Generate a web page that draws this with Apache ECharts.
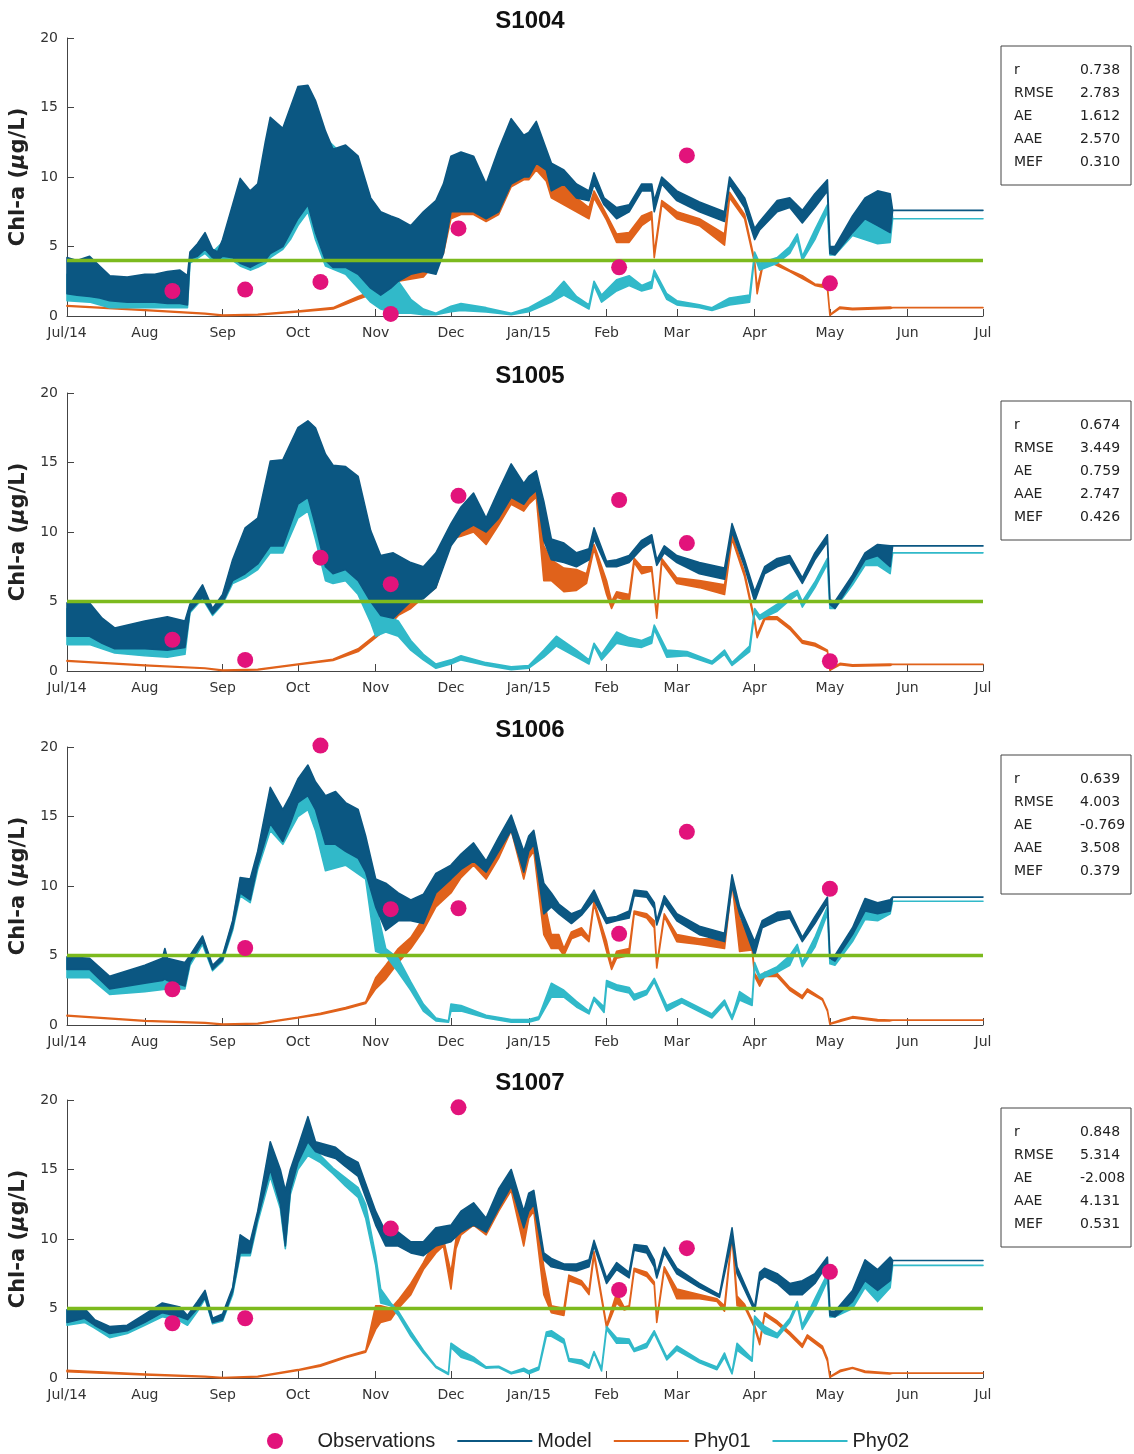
<!DOCTYPE html>
<html>
<head>
<meta charset="utf-8">
<title>Chl-a S1004 - S1007</title>
<script src="https://cdn.jsdelivr.net/npm/echarts@6/dist/echarts.min.js"></script>
<style>
  html, body { margin: 0; padding: 0; background: #fff; }
  #chart { width: 1134px; height: 1454px; }
</style>
</head>
<body>
<div id="chart"></div>
<script>
// month ticks on the time axis (Jul/14 .. Jul/15)
const monthStarts = ['07-01', '08-01', '09-01', '10-01', '11-01', '12-01', '01-01', '02-01', '03-01', '04-01', '05-01', '06-01', '2015-07-01']
const monthLabels = ['Jul/14', 'Aug', 'Sep', 'Oct', 'Nov', 'Dec', 'Jan/15', 'Feb', 'Mar', 'Apr', 'May', 'Jun', 'Jul']
const yTicks = [0, 5, 10, 15, 20]

const stations = ['S1004', 'S1005', 'S1006', 'S1007']
const thresholds = [4, 5, 5, 5]

// observations (same sampling dates for every station)
const obsDates = ['08-12', '09-10', '10-10', '11-07', '12-04', '02-06', '03-05', '05-01']
const s1004Obs = [1.8, 1.9, 2.45, 0.15, 6.3, 3.5, 11.55, 2.35]
const s1005Obs = [2.25, 0.8, 8.15, 6.25, 12.6, 12.3, 9.2, 0.7]
const s1006Obs = [2.57, 5.54, 20.1, 8.33, 8.4, 6.56, 13.9, 9.8]
const s1007Obs = [3.94, 4.3, null, 10.75, 19.47, 6.33, 9.34, 7.64]

// goodness of fit
const statNames = ['r', 'RMSE', 'AE', 'AAE', 'MEF']
const s1004Stats = [0.738, 2.783, 1.612, 2.570, 0.310]
const s1005Stats = [0.674, 3.449, 0.759, 2.747, 0.426]
const s1006Stats = [0.639, 4.003, -0.769, 3.508, 0.379]
const s1007Stats = [0.848, 5.314, -2.008, 4.131, 0.531]

// model output, [date, low, high] of the daily oscillation
const s1004Model = [['07-01',1.6,4.2],['07-05',1.5,4.0],['07-10',1.4,4.3],['07-14',1.3,3.6],['07-18',1.1,2.9],['07-25',1.0,2.8],['08-01',1.0,3.0],['08-05',1.0,3.0],['08-10',0.9,3.2],['08-15',0.9,3.3],['08-18',0.8,2.9],['08-19',4.1,4.6],['08-22',4.3,5.2],['08-25',4.8,6.0],['08-28',4.2,4.8],['08-30',4.0,4.6],['09-01',4.3,5.5],['09-05',4.2,8.0],['09-08',3.8,9.9],['09-12',3.5,9.0],['09-15',3.8,9.5],['09-18',4.0,12.5],['09-20',4.5,14.3],['09-25',5.0,13.5],['09-28',6.0,15.0],['10-01',7.0,16.5],['10-05',8.0,16.6],['10-08',6.0,15.5],['10-12',4.0,13.3],['10-15',3.5,12.0],['10-20',3.5,12.3],['10-25',3.0,11.5],['10-30',2.0,8.5],['11-03',1.5,7.5],['11-07',2.0,7.2],['11-10',2.5,7.0],['11-15',3.0,6.5],['11-20',3.2,7.5],['11-25',3.0,8.3],['11-28',4.5,9.5],['12-01',7.5,11.5],['12-05',7.5,11.8],['12-10',7.5,11.5],['12-15',7.0,9.5],['12-20',7.5,12.0],['12-25',9.5,14.2],['12-30',10.0,13.0],['01-01',10.0,13.2],['01-04',11.0,14.0],['01-08',10.5,12.0],['01-10',9.0,11.0],['01-15',9.5,10.5],['01-20',8.5,9.5],['01-25',8.3,9.0],['01-27',9.5,10.3],['01-31',8.0,8.5],['02-05',7.0,7.8],['02-10',7.5,8.0],['02-15',9.0,9.5],['02-19',9.0,9.5],['02-20',7.5,8.3],['02-23',9.5,10.0],['03-01',8.3,9.0],['03-10',7.5,8.2],['03-20',6.8,7.5],['03-22',9.5,10.0],['03-28',7.8,8.5],['04-01',5.5,6.3],['04-03',6.2,6.8],['04-10',7.5,8.3],['04-15',7.8,8.5],['04-20',6.7,7.6],['04-25',7.8,8.8],['04-30',9.0,9.8],['05-01',4.5,5.0],['05-03',4.4,5.0],['05-10',6.0,7.2],['05-15',7.0,8.5],['05-20',6.5,9.0],['05-25',6.0,8.8],['05-26',7.6,7.6],['2015-07-01',7.6,7.6]]
const s1004Phy01 = [['07-01',0.7,0.75],['08-01',0.4,0.45],['08-25',0.15,0.2],['09-01',0.03,0.06],['09-15',0.08,0.12],['10-01',0.3,0.35],['10-15',0.5,0.6],['10-20',0.85,1.0],['10-25',1.2,1.4],['10-31',1.6,1.8],['11-03',2.0,2.4],['11-10',2.5,3.2],['11-20',2.8,4.0],['11-28',4.5,6.5],['12-01',7.0,10.5],['12-05',7.3,11.0],['12-10',7.3,11.0],['12-15',6.8,9.0],['12-20',7.3,11.5],['12-25',9.3,13.5],['12-30',9.8,12.5],['01-01',9.8,12.8],['01-04',10.5,13.5],['01-08',9.7,11.4],['01-10',8.5,10.5],['01-15',8.0,10.0],['01-20',7.5,8.5],['01-25',7.0,7.8],['01-27',8.5,9.0],['02-01',6.9,7.3],['02-05',5.3,5.9],['02-10',5.3,6.0],['02-15',6.5,7.2],['02-19',7.0,7.5],['02-20',4.2,4.5],['02-23',8.0,8.3],['03-01',7.0,7.5],['03-10',6.5,7.0],['03-20',5.1,5.9],['03-22',8.5,8.9],['03-28',7.0,7.3],['04-01',3.8,4.0],['04-02',1.6,2.0],['04-04',3.4,3.6],['04-08',3.8,4.0],['04-15',3.2,3.3],['04-20',2.7,2.9],['04-25',2.2,2.3],['04-30',2.0,2.2],['05-01',0.05,0.1],['05-05',0.55,0.65],['05-10',0.45,0.55],['05-25',0.55,0.65],['05-26',0.6,0.6],['2015-07-01',0.6,0.6]]
const s1004Phy02 = [['07-01',1.1,3.0],['07-10',1.0,3.2],['07-18',0.6,2.0],['08-01',0.6,2.2],['08-10',0.6,2.3],['08-18',0.6,2.0],['08-19',3.8,4.4],['08-25',4.5,5.8],['08-28',4.0,4.6],['09-01',4.1,5.3],['09-05',4.0,7.7],['09-08',3.6,9.6],['09-12',3.3,8.7],['09-15',3.5,9.2],['09-18',3.8,12.2],['09-20',4.2,13.8],['09-25',4.8,13.2],['09-28',5.5,14.5],['10-01',6.5,16.0],['10-05',7.5,16.0],['10-08',5.5,15.0],['10-12',3.6,12.8],['10-20',3.0,11.4],['10-25',2.0,10.2],['10-30',1.0,7.0],['11-03',0.5,4.5],['11-07',0.3,3.0],['11-10',0.2,2.5],['11-15',0.2,1.2],['11-20',0.1,0.5],['11-25',0.1,0.2],['12-01',0.3,0.7],['12-05',0.4,0.9],['12-15',0.3,0.6],['12-25',0.1,0.2],['01-01',0.3,0.6],['01-10',1.0,1.5],['01-15',1.5,2.5],['01-20',1.0,1.4],['01-25',0.5,0.8],['01-27',2.2,2.5],['01-30',1.0,1.5],['02-05',1.8,2.6],['02-10',2.2,2.9],['02-15',1.8,2.2],['02-19',2.0,2.5],['02-20',3.0,3.3],['02-25',1.2,1.6],['03-01',0.8,1.1],['03-10',0.6,0.8],['03-15',0.4,0.6],['03-22',0.8,1.3],['03-30',1.0,1.5],['04-01',4.3,4.6],['04-03',3.3,3.8],['04-10',3.8,4.2],['04-15',4.5,5.0],['04-18',5.5,5.9],['04-20',4.0,4.3],['04-25',5.5,6.2],['04-30',7.5,8.0],['05-01',4.4,4.6],['05-03',4.4,4.9],['05-10',5.8,6.8],['05-20',5.2,8.5],['05-25',5.3,8.5],['05-26',7.0,7.0],['2015-07-01',7.0,7.0]]

const s1005Model = [['07-01',2.5,4.9],['07-10',2.5,4.9],['07-15',2.0,3.8],['07-20',1.6,3.1],['08-01',1.6,3.6],['08-10',1.5,3.9],['08-17',1.7,3.6],['08-19',4.3,4.8],['08-24',5.3,6.2],['08-28',4.1,4.5],['09-01',4.9,5.5],['09-05',6.5,8.0],['09-10',7.0,10.3],['09-15',7.7,11.0],['09-20',9.0,15.1],['09-25',9.0,15.2],['10-01',12.0,17.5],['10-05',12.5,18.0],['10-08',10.5,17.5],['10-12',7.5,15.6],['10-15',7.0,14.8],['10-20',7.3,14.7],['10-25',6.5,14.0],['10-30',5.0,10.1],['11-03',4.0,8.3],['11-08',3.8,8.5],['11-15',5.0,7.8],['11-20',5.2,7.5],['11-25',6.0,8.5],['12-01',9.0,10.6],['12-05',10.0,11.8],['12-10',10.5,12.8],['12-15',10.0,11.0],['12-20',11.0,13.0],['12-25',12.5,14.9],['12-30',12.0,13.5],['01-01',12.5,14.0],['01-04',13.0,14.4],['01-07',9.4,12.2],['01-10',8.0,9.5],['01-15',7.8,9.2],['01-20',7.5,8.5],['01-25',8.0,8.8],['01-27',9.5,10.3],['02-01',7.5,7.9],['02-05',7.5,8.0],['02-10',7.8,8.3],['02-15',8.8,9.4],['02-19',9.3,9.8],['02-21',7.6,8.0],['02-24',8.5,9.0],['03-01',7.8,8.3],['03-10',7.0,7.8],['03-20',6.6,7.4],['03-23',10.0,10.6],['03-28',7.5,8.0],['04-01',5.0,5.7],['04-05',7.0,7.5],['04-10',7.5,8.1],['04-15',7.8,8.3],['04-20',6.3,6.7],['04-25',8.0,8.5],['04-30',9.3,9.8],['05-01',4.8,5.1],['05-03',4.5,5.0],['05-10',6.5,6.9],['05-15',8.0,8.5],['05-20',8.3,9.1],['05-25',7.5,9.0],['05-26',9.0,9.0],['2015-07-01',9.0,9.0]]
const s1005Phy01 = [['07-01',0.7,0.75],['08-01',0.38,0.42],['08-25',0.18,0.22],['09-01',0.03,0.06],['09-15',0.08,0.12],['10-01',0.45,0.5],['10-15',0.75,0.85],['10-25',1.4,1.6],['11-01',2.4,2.6],['11-05',3.0,3.5],['11-10',4.0,4.5],['11-15',4.5,5.0],['11-20',5.3,5.8],['11-25',6.0,7.0],['12-01',9.5,10.3],['12-05',9.7,10.8],['12-10',10.0,11.5],['12-15',9.1,10.0],['12-20',10.5,12.0],['12-25',12.0,13.8],['12-30',11.5,12.8],['01-01',12.0,13.3],['01-04',12.5,13.5],['01-07',6.5,9.0],['01-10',6.5,8.0],['01-15',5.7,7.4],['01-20',5.8,7.3],['01-24',6.3,7.0],['01-27',8.8,9.1],['02-01',5.5,6.5],['02-03',4.5,5.0],['02-05',5.3,5.7],['02-10',5.0,5.5],['02-12',7.8,8.1],['02-15',7.0,7.5],['02-19',7.2,7.5],['02-21',3.8,4.1],['02-23',7.8,8.1],['03-01',6.3,6.7],['03-10',6.0,6.5],['03-20',5.5,6.2],['03-23',9.5,9.8],['03-28',6.8,7.1],['04-01',3.5,3.7],['04-02',2.4,2.6],['04-05',3.7,3.9],['04-10',3.7,3.9],['04-15',3.0,3.2],['04-20',2.0,2.2],['04-25',1.8,2.0],['04-30',1.4,1.5],['05-01',0.05,0.1],['05-05',0.45,0.55],['05-10',0.35,0.45],['05-25',0.4,0.5],['05-26',0.48,0.48],['2015-07-01',0.48,0.48]]
const s1005Phy02 = [['07-01',1.9,4.5],['07-10',1.9,4.5],['07-20',1.3,3.0],['08-01',1.1,3.4],['08-10',1.0,3.6],['08-17',1.2,3.4],['08-19',4.2,4.7],['08-24',5.2,6.0],['08-28',4.0,4.4],['09-01',4.8,5.4],['09-05',6.3,7.8],['09-10',6.7,10.0],['09-15',7.3,10.7],['09-20',8.5,14.8],['09-25',8.5,14.8],['10-01',11.0,17.0],['10-05',11.5,17.4],['10-08',9.5,16.8],['10-12',6.5,14.8],['10-15',6.3,14.0],['10-20',6.5,13.8],['10-25',5.5,12.5],['10-30',3.5,7.5],['11-01',2.5,5.0],['11-05',2.8,4.0],['11-10',2.5,3.6],['11-15',1.5,2.2],['11-20',0.8,1.2],['11-25',0.2,0.5],['12-01',0.5,0.8],['12-05',0.8,1.1],['12-15',0.4,0.6],['12-25',0.1,0.3],['01-01',0.2,0.4],['01-07',1.0,1.5],['01-12',1.8,2.5],['01-20',1.0,1.5],['01-25',0.5,0.8],['01-27',1.8,2.0],['01-30',0.8,1.2],['02-05',2.0,2.8],['02-10',1.8,2.4],['02-15',1.7,2.2],['02-19',2.0,2.5],['02-20',3.0,3.3],['02-25',1.0,1.5],['03-05',1.1,1.4],['03-15',0.5,0.7],['03-20',1.2,1.5],['03-23',0.4,0.6],['03-30',1.4,1.8],['04-01',4.2,4.5],['04-03',3.7,4.0],['04-10',4.3,4.8],['04-15',5.1,5.5],['04-18',5.5,5.8],['04-20',4.6,5.0],['04-25',6.0,6.4],['04-30',7.7,8.1],['05-01',4.5,4.8],['05-03',4.5,4.8],['05-10',6.2,6.6],['05-15',7.6,8.2],['05-20',7.6,8.8],['05-25',7.0,8.6],['05-26',8.5,8.5],['2015-07-01',8.5,8.5]]

const s1006Model = [['07-01',4.0,4.9],['07-10',4.0,4.8],['07-18',2.6,3.5],['08-01',3.0,4.3],['08-08',3.2,4.8],['08-09',3.3,5.5],['08-10',3.2,4.8],['08-17',2.8,4.5],['08-19',4.5,5.0],['08-24',6.0,6.4],['08-28',4.0,4.3],['09-01',4.7,5.0],['09-05',7.0,7.5],['09-08',9.5,10.6],['09-12',9.0,10.5],['09-15',11.5,12.5],['09-20',14.5,17.1],['09-25',13.2,15.5],['09-28',14.5,16.5],['10-01',16.0,17.7],['10-05',16.5,18.7],['10-08',15.5,17.5],['10-12',13.0,16.5],['10-16',13.0,16.8],['10-20',12.5,16.0],['10-25',12.0,15.5],['10-28',11.0,13.6],['11-01',8.5,10.5],['11-05',6.8,10.2],['11-10',7.5,9.5],['11-15',7.5,9.0],['11-20',7.3,9.4],['11-25',9.5,10.9],['12-01',10.5,11.5],['12-05',11.2,12.3],['12-10',11.8,13.1],['12-15',11.0,11.8],['12-20',12.5,13.5],['12-25',14.0,15.1],['12-30',11.0,12.5],['01-01',12.5,13.6],['01-03',13.0,14.0],['01-07',8.0,10.2],['01-10',8.5,9.5],['01-13',8.0,8.7],['01-18',7.3,8.0],['01-22',7.9,8.3],['01-27',9.0,9.7],['02-01',7.3,7.7],['02-05',7.5,7.8],['02-10',7.7,8.2],['02-12',9.3,9.7],['02-17',9.2,9.6],['02-20',8.4,8.8],['02-21',7.2,7.5],['02-24',8.8,9.3],['03-01',7.5,8.0],['03-10',6.5,7.1],['03-20',6.0,6.6],['03-23',10.0,10.8],['03-26',8.0,8.5],['04-01',5.0,6.0],['04-04',7.0,7.5],['04-10',7.5,8.1],['04-15',7.7,8.2],['04-20',6.0,6.3],['04-25',7.3,7.8],['04-30',8.8,9.2],['05-01',4.8,5.0],['05-03',4.6,5.0],['05-10',6.5,7.0],['05-15',8.2,9.1],['05-20',8.0,8.8],['05-25',8.2,9.0],['05-26',9.2,9.2],['2015-07-01',9.2,9.2]]
const s1006Phy01 = [['07-01',0.65,0.7],['08-01',0.28,0.32],['08-25',0.13,0.17],['09-01',0.03,0.06],['09-15',0.08,0.12],['10-01',0.5,0.55],['10-10',0.75,0.85],['10-20',1.15,1.25],['10-28',1.55,1.65],['11-01',2.6,3.4],['11-05',3.3,4.3],['11-10',4.5,5.5],['11-15',5.5,6.3],['11-20',6.8,7.7],['11-25',8.5,9.5],['12-01',9.5,10.5],['12-05',10.6,11.5],['12-10',11.5,12.5],['12-15',10.5,11.3],['12-20',12.0,13.0],['12-25',14.0,14.5],['12-30',10.5,12.0],['01-01',12.0,13.0],['01-03',12.5,13.5],['01-07',6.5,9.0],['01-10',5.5,6.5],['01-13',5.5,6.5],['01-15',5.0,5.5],['01-18',6.2,6.7],['01-22',6.5,7.0],['01-25',6.0,6.3],['01-27',8.7,8.9],['02-01',5.3,6.0],['02-03',4.0,4.3],['02-05',4.8,5.3],['02-10',5.0,5.5],['02-12',8.0,8.2],['02-17',7.7,8.0],['02-20',7.0,7.5],['02-21',4.1,4.3],['02-24',7.8,8.0],['03-01',6.0,6.5],['03-10',5.8,6.2],['03-20',5.5,6.2],['03-23',10.2,10.4],['03-26',5.3,7.7],['03-31',5.4,5.6],['04-01',3.5,3.7],['04-03',2.8,3.2],['04-05',3.5,3.8],['04-10',3.5,3.7],['04-15',2.5,2.7],['04-20',1.9,2.1],['04-22',2.4,2.6],['04-28',1.8,1.9],['04-30',1.0,1.1],['05-01',0.05,0.1],['05-05',0.25,0.35],['05-10',0.5,0.6],['05-20',0.3,0.4],['05-25',0.3,0.35],['05-26',0.35,0.35],['2015-07-01',0.35,0.35]]
const s1006Phy02 = [['07-01',3.4,4.8],['07-10',3.4,4.7],['07-18',2.2,3.4],['08-01',2.4,4.2],['08-10',2.6,4.6],['08-17',2.6,4.3],['08-19',4.3,4.9],['08-24',5.8,6.3],['08-28',3.9,4.2],['09-01',4.6,4.9],['09-05',6.8,7.4],['09-08',9.3,10.4],['09-12',8.8,10.3],['09-15',11.2,12.3],['09-20',14.0,16.8],['09-25',13.0,15.2],['09-28',14.0,16.2],['10-01',15.0,17.3],['10-05',15.5,18.0],['10-08',14.0,16.8],['10-12',11.1,15.5],['10-20',11.5,15.0],['10-28',10.5,13.0],['11-01',5.3,8.7],['11-05',5.0,5.5],['11-10',3.8,4.8],['11-15',2.5,3.1],['11-20',1.0,1.5],['11-25',0.3,0.5],['11-30',0.2,0.3],['12-01',1.0,1.5],['12-05',1.0,1.4],['12-15',0.5,0.7],['12-25',0.2,0.4],['01-01',0.2,0.4],['01-05',0.4,0.6],['01-10',2.0,3.0],['01-15',2.0,2.5],['01-20',1.3,1.7],['01-25',0.8,1.0],['01-27',1.8,2.0],['01-31',0.9,1.3],['02-01',2.8,3.2],['02-05',2.5,2.9],['02-10',2.3,2.7],['02-12',1.8,2.2],['02-17',2.2,2.5],['02-20',3.1,3.35],['02-25',1.0,1.4],['03-03',1.6,1.9],['03-15',0.5,0.8],['03-20',1.5,1.8],['03-23',0.4,0.6],['03-26',1.8,2.4],['03-31',1.4,1.8],['04-01',4.2,4.5],['04-03',3.3,3.6],['04-10',3.8,4.2],['04-15',4.3,5.0],['04-18',5.5,5.8],['04-20',4.2,4.5],['04-25',5.6,6.3],['04-30',8.0,8.5],['05-01',4.4,4.6],['05-03',4.3,4.7],['05-10',6.0,6.6],['05-15',7.6,8.6],['05-20',7.5,8.4],['05-25',8.0,8.8],['05-26',8.9,8.9],['2015-07-01',8.9,8.9]]

const s1007Model = [['07-01',4.0,4.9],['07-08',4.3,5.0],['07-12',3.8,4.2],['07-18',3.2,3.7],['07-25',3.4,3.8],['08-01',4.0,4.6],['08-08',4.7,5.4],['08-15',4.4,5.1],['08-18',4.2,4.5],['08-22',5.0,5.5],['08-25',5.8,6.3],['08-28',4.0,4.3],['09-01',4.2,4.6],['09-05',6.2,6.5],['09-08',9.0,10.3],['09-12',9.0,9.8],['09-15',11.5,12.0],['09-20',15.0,17.0],['09-24',12.5,15.0],['09-26',9.5,13.5],['09-28',13.5,15.0],['10-01',15.5,16.6],['10-05',17.0,18.8],['10-08',16.3,17.0],['10-12',16.0,16.8],['10-16',15.8,16.6],['10-20',15.2,16.0],['10-25',14.5,15.5],['10-28',13.0,14.0],['11-01',11.0,12.0],['11-05',9.5,10.5],['11-10',9.5,10.5],['11-15',9.0,9.8],['11-20',8.8,9.8],['11-25',9.5,10.8],['12-01',9.8,11.0],['12-05',10.5,12.0],['12-10',11.0,12.6],['12-15',10.5,11.5],['12-20',12.2,13.6],['12-25',13.8,15.0],['12-30',10.8,12.0],['01-01',12.0,13.3],['01-03',12.5,13.5],['01-07',8.5,9.0],['01-10',8.0,8.6],['01-15',7.8,8.2],['01-20',7.7,8.2],['01-25',8.0,8.5],['01-27',9.5,9.9],['02-01',6.8,7.2],['02-05',7.8,8.3],['02-10',7.2,7.6],['02-12',9.2,9.6],['02-17',9.0,9.5],['02-20',8.0,8.5],['02-21',7.2,7.5],['02-24',9.0,9.4],['03-01',7.5,7.9],['03-10',6.5,6.8],['03-18',5.8,6.0],['03-23',10.0,10.8],['03-25',7.5,8.0],['04-01',4.8,5.1],['04-03',7.0,7.6],['04-05',7.3,7.9],['04-10',6.8,7.5],['04-15',6.0,6.8],['04-20',6.0,7.0],['04-25',6.8,7.5],['04-30',8.2,8.7],['05-01',4.5,4.8],['05-03',4.4,4.8],['05-10',5.5,6.3],['05-15',7.0,8.5],['05-20',6.3,7.8],['05-25',7.0,8.7],['05-26',8.45,8.45],['2015-07-01',8.45,8.45]]
const s1007Phy01 = [['07-01',0.45,0.55],['08-01',0.22,0.28],['08-25',0.08,0.12],['09-01',0.0,0.03],['09-15',0.08,0.12],['10-01',0.55,0.6],['10-10',0.85,0.95],['10-20',1.45,1.55],['10-28',1.85,1.95],['11-01',3.5,5.2],['11-03',4.0,5.2],['11-07',4.2,5.0],['11-10',5.0,5.6],['11-15',6.0,6.8],['11-20',7.8,8.3],['11-25',9.0,10.0],['11-28',9.5,10.0],['12-01',6.4,7.6],['12-03',9.3,10.0],['12-05',10.3,11.0],['12-10',11.0,12.0],['12-15',10.3,11.0],['12-20',12.0,13.0],['12-25',13.5,14.5],['12-30',9.5,11.5],['01-01',11.5,12.5],['01-03',12.0,13.0],['01-07',6.0,8.0],['01-10',4.7,5.2],['01-15',4.5,5.0],['01-17',7.0,7.4],['01-22',6.7,7.0],['01-25',6.0,6.3],['01-27',8.8,9.1],['02-01',3.6,3.8],['02-05',5.4,6.1],['02-08',4.9,5.1],['02-10',5.0,5.2],['02-12',7.7,7.9],['02-17',7.3,7.6],['02-20',6.7,6.9],['02-21',4.0,4.2],['02-24',7.8,8.0],['03-01',5.7,6.4],['03-10',5.7,6.0],['03-17',5.5,5.7],['03-20',4.8,5.2],['03-23',10.2,10.4],['03-25',5.2,5.9],['03-28',5.1,5.3],['04-01',3.6,3.8],['04-03',2.4,2.6],['04-05',4.5,4.7],['04-10',3.9,4.1],['04-15',3.1,3.3],['04-20',2.2,2.4],['04-22',2.9,3.1],['04-28',2.1,2.3],['04-30',1.2,1.4],['05-01',0.05,0.1],['05-05',0.45,0.55],['05-10',0.7,0.75],['05-15',0.4,0.5],['05-25',0.3,0.35],['05-26',0.35,0.35],['2015-07-01',0.35,0.35]]
const s1007Phy02 = [['07-01',3.8,4.9],['07-08',4.0,4.8],['07-12',3.6,4.0],['07-18',2.9,3.6],['07-25',3.2,3.7],['08-01',3.8,4.5],['08-08',4.4,5.2],['08-15',4.1,4.9],['08-18',3.8,4.4],['08-22',4.8,5.3],['08-25',5.7,6.2],['08-28',3.9,4.2],['09-01',4.1,4.5],['09-05',6.0,6.4],['09-08',8.8,10.0],['09-12',8.8,9.6],['09-15',11.2,11.8],['09-20',14.5,16.7],['09-24',12.2,14.7],['09-26',9.3,13.2],['09-28',13.2,14.7],['10-01',15.0,16.2],['10-05',16.0,17.7],['10-10',15.5,16.0],['10-15',14.7,15.1],['10-20',13.8,14.4],['10-25',13.0,13.7],['10-28',11.5,12.5],['11-01',8.1,8.8],['11-03',5.4,6.4],['11-07',5.2,5.4],['11-10',4.5,4.8],['11-15',3.0,3.35],['11-20',1.8,2.0],['11-25',0.75,0.85],['11-30',0.25,0.35],['12-01',2.2,2.5],['12-05',1.5,2.0],['12-10',1.2,1.5],['12-15',0.7,0.8],['12-20',0.75,0.85],['12-25',0.3,0.4],['12-30',0.5,0.7],['01-01',0.3,0.5],['01-05',0.6,0.8],['01-08',3.0,3.3],['01-10',3.0,3.4],['01-15',2.5,2.8],['01-17',1.2,1.4],['01-22',1.0,1.3],['01-25',0.7,0.9],['01-27',1.8,1.9],['01-30',0.5,0.7],['02-01',3.5,3.7],['02-05',2.5,2.9],['02-10',2.5,2.8],['02-12',1.9,2.1],['02-17',2.2,2.5],['02-20',3.2,3.4],['02-25',1.3,1.5],['03-01',2.0,2.3],['03-10',1.1,1.3],['03-17',0.6,0.8],['03-20',1.5,1.8],['03-23',0.3,0.4],['03-25',2.0,2.5],['03-31',1.2,1.4],['04-01',4.0,4.45],['04-05',3.2,3.7],['04-10',2.9,3.2],['04-15',4.0,4.3],['04-18',5.2,5.5],['04-20',3.5,3.8],['04-25',5.0,5.7],['04-30',7.0,7.5],['05-01',4.4,4.6],['05-03',4.4,4.6],['05-10',5.0,5.8],['05-15',6.5,8.0],['05-20',5.5,7.5],['05-25',6.5,8.3],['05-26',8.1,8.1],['2015-07-01',8.1,8.1]]

const modelRows = [s1004Model, s1005Model, s1006Model, s1007Model]
const phy01Rows = [s1004Phy01, s1005Phy01, s1006Phy01, s1007Phy01]
const phy02Rows = [s1004Phy02, s1005Phy02, s1006Phy02, s1007Phy02]
const obsRows = [s1004Obs, s1005Obs, s1006Obs, s1007Obs]
const statRows = [s1004Stats, s1005Stats, s1006Stats, s1007Stats]

const C_MODEL = '#0b5782'
const C_PHY01 = '#e0621b'
const C_PHY02 = '#31b9c9'
const C_OBS = '#e2137b'
const C_LIMIT = '#7cba1e'
const FONT = '"DejaVu Sans", sans-serif'

// 'MM-DD' -> days since 1 Jul 2014 (Jul..Dec is 2014, Jan..Jun is 2015)
function toDay(s) {
  let p = s.split('-').map(Number)
  let y, m, d
  if (p.length === 3) {
    y = p[0]; m = p[1]; d = p[2]
  } else {
    m = p[0]; d = p[1]; y = m >= 7 ? 2014 : 2015
  }
  return (Date.UTC(y, m - 1, d) - Date.UTC(2014, 6, 1)) / 86400000
}
const monthDays = monthStarts.map(toDay)

// filled band between low and high, drawn once as a polygon via the axis scales
function band(name, rows, color, idx, z) {
  let pts = rows.map(r => [toDay(r[0]), r[1], r[2]])
  return {
    name: name,
    type: 'custom',
    xAxisIndex: idx,
    yAxisIndex: idx,
    z: z,
    silent: true,
    itemStyle: { color: color },
    encode: { x: 0, y: [1, 2] },
    data: pts,
    renderItem: function (params, api) {
      if (params.dataIndex !== 0) return null
      let upper = pts.map(p => api.coord([p[0], p[2]]))
      let lower = pts.map(p => api.coord([p[0], p[1]])).reverse()
      return {
        type: 'polygon',
        shape: { points: upper.concat(lower) },
        style: { fill: color, stroke: color, lineWidth: 1.6, lineJoin: 'round' }
      }
    }
  }
}

const gridTops = [38, 393, 747, 1100]
const gridH = 278

let grids = [], xAxes = [], yAxes = [], series = [], titles = [], graphics = []

stations.forEach((st, i) => {
  grids.push({ left: 67, right: 151, top: gridTops[i], height: gridH })
  titles.push({
    text: st, left: 525, top: gridTops[i] - 34, textAlign: 'center',
    textStyle: { fontFamily: '"Liberation Sans", Arial, sans-serif', fontSize: 24, fontWeight: 'bold', color: '#111' }
  })
  xAxes.push({
    gridIndex: i, type: 'value', min: 0, max: 365,
    axisLine: { lineStyle: { color: '#444', width: 1 } },
    axisTick: { inside: true, length: 7, customValues: monthDays, lineStyle: { color: '#444' } },
    axisLabel: {
      customValues: monthDays, margin: 10, fontSize: 14, color: '#333', fontFamily: FONT,
      formatter: v => monthLabels[monthDays.indexOf(v)]
    },
    splitLine: { show: false }
  })
  yAxes.push({
    gridIndex: i, type: 'value', min: 0, max: 20, interval: 5,
    axisLine: { show: true, lineStyle: { color: '#444', width: 1 } },
    axisTick: { inside: true, length: 7, lineStyle: { color: '#444' } },
    axisLabel: { fontSize: 14, color: '#333', margin: 9, fontFamily: FONT,
      formatter: v => yTicks.indexOf(v) >= 0 ? String(v) : '' },
    splitLine: { show: false },
    name: 'Chl-a ({mu|μ}g/L)', nameLocation: 'middle', nameGap: 32,
    nameTextStyle: {
      fontSize: 21, fontWeight: 'bold', color: '#222', fontFamily: FONT,
      rich: { mu: { fontSize: 21, fontWeight: 'bold', fontStyle: 'italic', color: '#222', fontFamily: FONT } }
    }
  })

  series.push(band('Phy01', phy01Rows[i], C_PHY01, i, 2))
  series.push(band('Phy02', phy02Rows[i], C_PHY02, i, 3))
  series.push(band('Model', modelRows[i], C_MODEL, i, 4))
  series.push({
    name: 'limit', type: 'line', xAxisIndex: i, yAxisIndex: i, z: 5, silent: true,
    symbol: 'none', lineStyle: { color: C_LIMIT, width: 3.5 },
    data: [[0, thresholds[i]], [365, thresholds[i]]]
  })
  series.push({
    name: 'Observations', type: 'scatter', xAxisIndex: i, yAxisIndex: i, z: 6,
    symbolSize: 16, clip: false, itemStyle: { color: C_OBS, opacity: 1 },
    data: obsDates.map((d, k) => [toDay(d), obsRows[i][k]]).filter(p => p[1] != null)
  })

  // statistics box
  let bx = 1001, by = gridTops[i] + 8
  graphics.push({
    type: 'rect', shape: { x: bx, y: by, width: 130, height: 139 },
    style: { fill: '#fff', stroke: '#444', lineWidth: 1 }
  })
  statNames.forEach((n, k) => {
    let yy = by + 24 + k * 23
    graphics.push({ type: 'text', x: bx + 13, y: yy,
      style: { text: n, fill: '#222', font: '14px ' + FONT, verticalAlign: 'middle' } })
    graphics.push({ type: 'text', x: bx + 79, y: yy,
      style: { text: statRows[i][k].toFixed(3), fill: '#222', font: '14px ' + FONT, verticalAlign: 'middle' } })
  })
})

const chart = echarts.init(document.getElementById('chart'), null, { renderer: 'canvas' })
chart.setOption({
  animation: false,
  backgroundColor: '#fff',
  title: titles,
  grid: grids,
  xAxis: xAxes,
  yAxis: yAxes,
  legend: {
    left: 262, top: 1426, itemWidth: 75, itemHeight: 16, itemGap: 22,
    textStyle: { fontSize: 20, color: '#222', fontFamily: '"Liberation Sans", Arial, sans-serif' },
    data: [
      { name: 'Observations', icon: 'circle', itemStyle: { color: C_OBS } },
      { name: 'Model', icon: 'path://M0,0H75V2H0Z', itemStyle: { color: C_MODEL } },
      { name: 'Phy01', icon: 'path://M0,0H75V2H0Z', itemStyle: { color: C_PHY01 } },
      { name: 'Phy02', icon: 'path://M0,0H75V2H0Z', itemStyle: { color: C_PHY02 } }
    ]
  },
  graphic: graphics,
  series: series
})
</script>
</body>
</html>
